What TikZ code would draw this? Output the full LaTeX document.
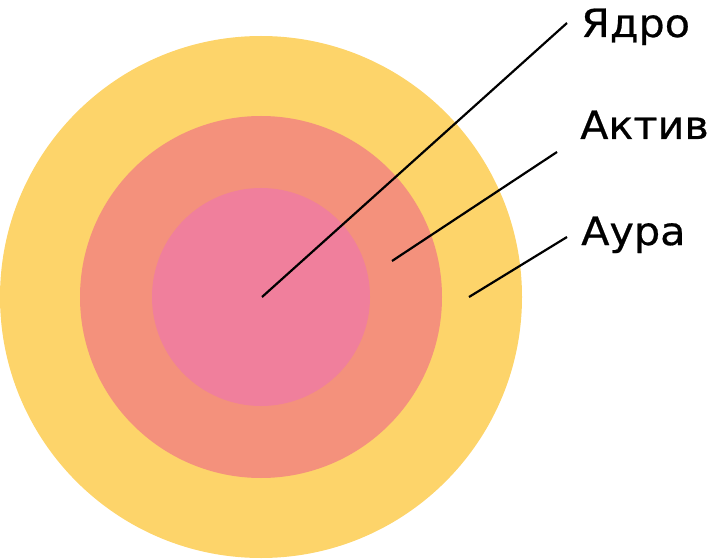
\documentclass[tikz,border=0pt]{standalone}
\usepackage{fontspec}
\setmainfont{DejaVu Sans}[FakeStretch=1.06,FakeBold=0.6]
\definecolor{aura}{HTML}{FDD46A}
\definecolor{aktiv}{HTML}{F4917C}
\definecolor{yadro}{HTML}{F07F9C}
\begin{document}
\begin{tikzpicture}[x=1pt,y=-1pt,
  lbl/.style={anchor=base west,inner sep=0pt,font=\fontsize{39}{48}\selectfont},
  lead/.style={line width=2.2pt,black}]
\useasboundingbox (0,0) rectangle (710,559);
\fill[aura] (261,297) circle[radius=261];
\fill[aktiv] (261,297) circle[radius=181];
\fill[yadro] (261,297) circle[radius=109];
\node[lbl] (t1) at (581,37) {Ядро};
\node[lbl] (t2) at (580,139) {Актив};
\node[lbl] (t3) at (581,245) {Аура};
\coordinate (c) at (262,297);
\coordinate (a) at (392,261);
\coordinate (u) at (469,297);
\coordinate (e1) at (567,23);
\coordinate (e2) at (557,152);
\coordinate (e3) at (567,237);
\draw[lead] (c) -- (e1);
\draw[lead] (a) -- (e2);
\draw[lead] (u) -- (e3);
\end{tikzpicture}
\end{document}
